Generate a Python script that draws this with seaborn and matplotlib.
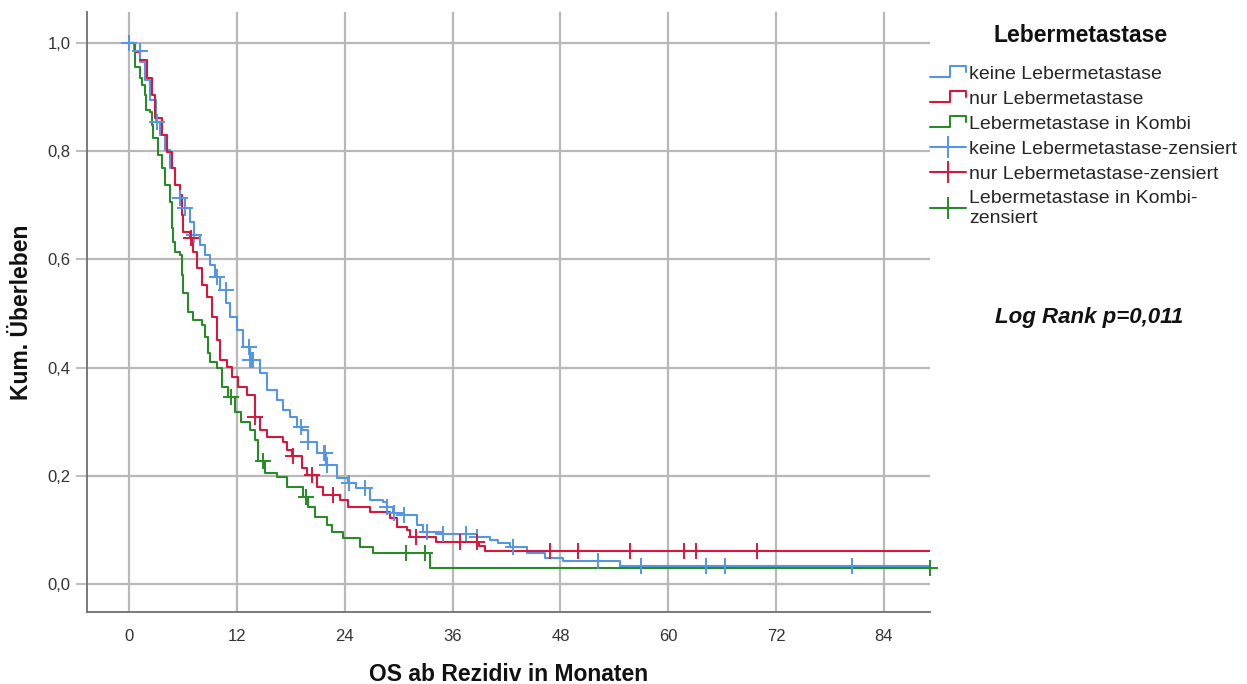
import numpy as np
import pandas as pd
import matplotlib
matplotlib.use("Agg")
import matplotlib.pyplot as plt
import seaborn as sns
from matplotlib.lines import Line2D
from matplotlib.legend_handler import HandlerLine2D

# ---- Kaplan-Meier step data (months, cumulative survival after each event) ----
groups = ["keine Lebermetastase", "nur Lebermetastase", "Lebermetastase in Kombi"]
colors = ["#5496e4", "#d8173f", "#2a8a2a"]
t_end = 89.1

keine_t = [0.6, 1.22, 1.78, 2.34, 3.0, 3.45, 4.0, 4.56, 5.12, 5.67, 6.23, 6.79, 7.23,
           7.9, 8.46, 9.01, 9.57, 10.12, 10.79, 11.24, 11.98, 12.68, 13.46, 14.58,
           15.32, 16.43, 17.13, 17.91, 18.66, 19.2, 19.9, 20.88, 21.9, 23.1, 24.4,
           25.3, 26.8, 28.3, 28.7, 29.4, 30.5, 32.0, 32.7, 34.8, 38.7, 40.2, 41.1,
           42.4, 44.3, 46.3, 48.3, 54.6]
keine_s = [0.985, 0.965, 0.932, 0.895, 0.854, 0.830, 0.802, 0.769, 0.738, 0.713,
           0.695, 0.669, 0.645, 0.627, 0.608, 0.590, 0.567, 0.543, 0.519, 0.494,
           0.470, 0.438, 0.414, 0.390, 0.359, 0.340, 0.322, 0.309, 0.290, 0.285,
           0.262, 0.242, 0.220, 0.196, 0.187, 0.177, 0.155, 0.152, 0.142, 0.131,
           0.128, 0.109, 0.096, 0.092, 0.087, 0.081, 0.076, 0.068, 0.057, 0.048,
           0.043, 0.033]
keine_cens = [0.05, 1.2, 3.1, 5.7, 6.25, 7.25, 9.75, 10.75, 13.3, 13.5, 13.65, 13.8,
              19.1, 19.95, 21.7, 21.85, 22.0, 24.45, 26.3, 28.75, 29.5, 30.6, 33.2,
              34.9, 37.5, 38.75, 42.7, 52.2, 57.0, 64.2, 66.3, 80.4]

nur_t = [0.67, 1.22, 1.97, 2.53, 2.89, 3.64, 4.19, 4.75, 5.12, 5.67, 5.86, 6.04,
         6.79, 7.12, 7.53, 8.09, 8.64, 9.2, 9.76, 10.12, 10.87, 11.43, 12.13, 13.1,
         14.0, 14.58, 15.32, 17.13, 17.55, 18.1, 19.2, 19.77, 20.9, 21.6, 23.5, 24.4,
         26.8, 29.0, 29.8, 30.9, 31.3, 34.2, 38.9, 39.6]
nur_s = [0.983, 0.969, 0.935, 0.904, 0.861, 0.830, 0.799, 0.769, 0.738, 0.719, 0.682,
         0.651, 0.640, 0.614, 0.584, 0.553, 0.530, 0.494, 0.451, 0.414, 0.401, 0.383,
         0.364, 0.349, 0.309, 0.285, 0.272, 0.262, 0.248, 0.237, 0.214, 0.201, 0.179,
         0.165, 0.155, 0.142, 0.133, 0.122, 0.105, 0.100, 0.087, 0.078, 0.070, 0.0616]
nur_cens = [6.85, 14.05, 18.2, 20.4, 22.7, 31.9, 36.8, 38.7, 46.8, 50.0, 55.7, 61.7,
            63.1, 69.9]

kombi_t = [0.67, 1.22, 1.41, 1.78, 1.85, 2.34, 2.53, 2.67, 3.23, 3.64, 4.0, 4.56,
           4.75, 4.93, 5.12, 5.67, 5.86, 6.04, 6.56, 7.12, 8.09, 8.46, 8.79, 9.01,
           9.76, 10.31, 11.0, 11.8, 12.5, 13.46, 14.02, 14.35, 15.13, 16.43, 17.55,
           19.36, 19.9, 20.7, 22.0, 22.55, 23.8, 25.7, 27.1, 33.5]
kombi_s = [0.955, 0.935, 0.922, 0.904, 0.876, 0.872, 0.848, 0.824, 0.793, 0.769,
           0.738, 0.706, 0.658, 0.632, 0.614, 0.608, 0.571, 0.538, 0.503, 0.488,
           0.479, 0.457, 0.427, 0.410, 0.399, 0.364, 0.346, 0.318, 0.299, 0.285,
           0.266, 0.227, 0.205, 0.198, 0.179, 0.161, 0.142, 0.124, 0.109, 0.096,
           0.085, 0.068, 0.057, 0.0296]
kombi_cens = [11.35, 14.9, 19.7, 30.8, 32.9, 89.1]

x_ticks = [0, 12, 24, 36, 48, 60, 72, 84]
y_ticks = [0.0, 0.2, 0.4, 0.6, 0.8, 1.0]
y_ticklabels = ["0,0", "0,2", "0,4", "0,6", "0,8", "1,0"]

# ---- assemble long-form tables ----
series = [(keine_t, keine_s, keine_cens), (nur_t, nur_s, nur_cens),
          (kombi_t, kombi_s, kombi_cens)]
curve_rows, cens_rows = [], []
for name, (tt, ss, cc) in zip(groups, series):
    t_full = np.r_[0.0, tt, t_end]
    s_full = np.r_[1.0, ss, ss[-1]]
    curve_rows.append(pd.DataFrame({"t": t_full, "S": s_full, "group": name}))
    idx = np.searchsorted(t_full, cc, side="right") - 1
    cens_rows.append(pd.DataFrame({"t": cc, "S": s_full[idx], "group": name}))
curves = pd.concat(curve_rows, ignore_index=True)
censored = pd.concat(cens_rows, ignore_index=True)

# ---- figure ----
sns.set_theme(style="white")
plt.rcParams["font.family"] = ["Liberation Sans", "DejaVu Sans"]

W, H = 1247, 684
fig = plt.figure(figsize=(W / 100, H / 100), dpi=100)
ax = fig.add_axes([87 / W, 72 / H, (930 - 87) / W, 600 / H])

palette = dict(zip(groups, colors))
sns.lineplot(data=curves, x="t", y="S", hue="group", palette=palette,
             estimator=None, drawstyle="steps-post", linewidth=1.5,
             legend=False, ax=ax, zorder=3)
for name in groups:
    sub = censored[censored["group"] == name]
    ax.plot(sub["t"], sub["S"], linestyle="none", marker="+", markersize=12,
            markeredgewidth=1.4, color=palette[name], zorder=4, clip_on=False)

ax.set_xlim(-4.67, 89.12)
ax.set_ylim(-0.0518, 1.0573)
ax.set_xticks(x_ticks)
ax.set_xticklabels([str(v) for v in x_ticks])
ax.set_yticks(y_ticks)
ax.set_yticklabels(y_ticklabels)
ax.grid(True, color="#b8b8b8", linewidth=1.6)
ax.set_axisbelow(True)
for side in ("top", "right"):
    ax.spines[side].set_visible(False)
for side in ("left", "bottom"):
    ax.spines[side].set_color("#707070")
    ax.spines[side].set_linewidth(1.3)
ax.tick_params(axis="x", length=0, pad=12, labelsize=12, labelcolor="#333333")
ax.tick_params(axis="y", left=True, length=8, width=1.3, color="#b8b8b8", pad=4,
               labelsize=12, labelcolor="#333333")
ax.set_xlabel("OS ab Rezidiv in Monaten", fontsize=16.5, fontweight="bold",
              labelpad=14, color="#111111")
ax.set_ylabel("Kum. Überleben", fontsize=16.5, fontweight="bold", labelpad=10,
              color="#111111")


# ---- legend with step-shaped handles ----
class StepHandler(HandlerLine2D):
    def create_artists(self, legend, orig_handle, xdescent, ydescent, width,
                       height, fontsize, trans):
        x0 = -xdescent
        x1 = x0 + width
        xm = x0 + 0.55 * width
        lo = -ydescent + 0.1 * height
        hi = -ydescent + 0.9 * height
        line = Line2D([x0, xm, xm, x1, x1], [lo, lo, hi, hi, hi - 0.4 * height],
                      color=orig_handle.get_color(),
                      linewidth=orig_handle.get_linewidth())
        line.set_transform(trans)
        return [line]


step_handles = [Line2D([], [], color=c, linewidth=1.5) for c in colors]
cens_handles = [Line2D([], [], color=c, linewidth=1.5, marker="+", markersize=16,
                       markeredgewidth=1.4) for c in colors]
labels = groups + ["keine Lebermetastase-zensiert", "nur Lebermetastase-zensiert",
                   "Lebermetastase in Kombi-\nzensiert"]
handler_map = {h: StepHandler() for h in step_handles}
leg = fig.legend(step_handles + cens_handles, labels, loc="upper left",
                 bbox_to_anchor=(930 / W, 1 - 65 / H), frameon=False,
                 fontsize=14, handlelength=1.85, handletextpad=0.15,
                 labelspacing=0.38, borderpad=0, borderaxespad=0,
                 handler_map=handler_map, numpoints=1)
fig.text(1081 / W, 1 - 36 / H, "Lebermetastase", ha="center", va="center",
         fontsize=16.5, fontweight="bold", color="#111111")

fig.text(1089 / W, 1 - 317 / H, "Log Rank p=0,011", ha="center", va="center",
         fontsize=16, fontweight="bold", fontstyle="italic", color="#111111")

fig.savefig("out.png", dpi=100)
